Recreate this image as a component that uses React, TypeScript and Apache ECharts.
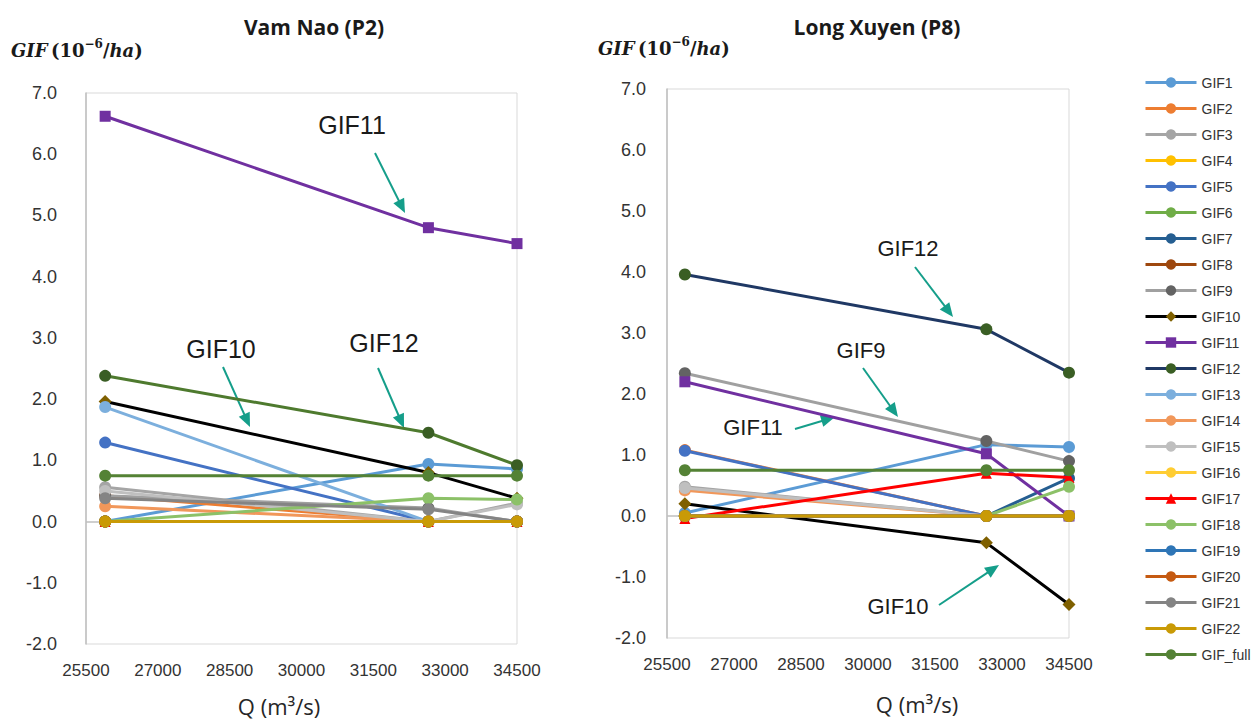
import React, { useEffect, useRef } from "react";
import * as echarts from "echarts";

// Discharge Q (m3/s) at which GIF was evaluated
const qValues = [25900, 32650, 34500];

const seriesNames = [
  "GIF1", "GIF2", "GIF3", "GIF4", "GIF5", "GIF6", "GIF7", "GIF8", "GIF9", "GIF10", "GIF11",
  "GIF12", "GIF13", "GIF14", "GIF15", "GIF16", "GIF17", "GIF18", "GIF19", "GIF20", "GIF21",
  "GIF22", "GIF_full",
];

// Vam Nao (P2): one row per series, values at qValues
const vamNaoValues: number[][] = [
  [0, 0.94, 0.86], // GIF1
  [0.42, 0, 0], // GIF2
  [0.56, 0, 0.3], // GIF3
  [0, 0, 0], // GIF4
  [1.29, 0, 0], // GIF5
  [0, 0, 0], // GIF6
  [0, 0, 0], // GIF7
  [0, 0, 0], // GIF8
  [0.42, 0.22, 0], // GIF9
  [1.96, 0.8, 0.38], // GIF10
  [6.62, 4.8, 4.54], // GIF11
  [2.38, 1.45, 0.92], // GIF12
  [1.87, 0, 0], // GIF13
  [0.25, 0, 0], // GIF14
  [0.5, 0, 0.28], // GIF15
  [0, 0, 0], // GIF16
  [0, 0, 0], // GIF17
  [0, 0.38, 0.36], // GIF18
  [0, 0, 0], // GIF19
  [0, 0, 0], // GIF20
  [0.38, 0.2, 0], // GIF21
  [0, 0, 0], // GIF22
  [0.75, 0.75, 0.75], // GIF_full
];

// Long Xuyen (P8)
const longXuyenValues: number[][] = [
  [0.05, 1.17, 1.13], // GIF1
  [1.08, 0, 0], // GIF2
  [0.48, 0, 0], // GIF3
  [0, 0, 0], // GIF4
  [1.07, 0, 0], // GIF5
  [0, 0, 0], // GIF6
  [0, 0, 0.62], // GIF7
  [0, 0, 0], // GIF8
  [2.34, 1.23, 0.9], // GIF9
  [0.2, -0.44, -1.45], // GIF10
  [2.2, 1.02, 0], // GIF11
  [3.96, 3.06, 2.35], // GIF12
  [0, 0, 0], // GIF13
  [0.42, 0, 0], // GIF14
  [0.46, 0, 0], // GIF15
  [0, 0, 0], // GIF16
  [-0.04, 0.7, 0.63], // GIF17
  [0, 0, 0.48], // GIF18
  [0, 0, 0], // GIF19
  [0, 0, 0], // GIF20
  [0, 0, 0], // GIF21
  [0, 0, 0], // GIF22
  [0.75, 0.75, 0.75], // GIF_full
];

const lineColors = [
  "#5b9bd5", "#ed7d31", "#a5a5a5", "#ffc000", "#4472c4", "#70ad47", "#255e91", "#9e480e",
  "#a0a0a0", "#000000", "#7030a0", "#1f3864", "#7cafdd", "#f1975a", "#bfbfbf", "#ffcd33",
  "#ff0000", "#8cc168", "#2e75b6", "#c55a11", "#848484", "#c99a06", "#548235",
];
const markerColors = [
  "#5b9bd5", "#ed7d31", "#a5a5a5", "#ffc000", "#4472c4", "#70ad47", "#255e91", "#9e480e",
  "#636363", "#7f6000", "#7030a0", "#3a5e24", "#7cafdd", "#f1975a", "#bfbfbf", "#ffcd33",
  "#ff0000", "#8cc168", "#2e75b6", "#c55a11", "#848484", "#c99a06", "#548235",
];
const symbols = seriesNames.map((n) =>
  n === "GIF10" ? "diamond" : n === "GIF11" ? "rect" : n === "GIF17" ? "triangle" : "circle"
);
const symbolSizes = seriesNames.map((n) =>
  n === "GIF10" ? 13 : n === "GIF11" ? 11 : n === "GIF17" ? 11 : 12
);

// panel-specific override: Vam Nao GIF12 line is drawn green
const vamNaoLineOverride: Record<string, string> = { GIF12: "#4e7a2e" };

const yTicks = { min: -2, max: 7, interval: 1 };
const xTicks = { min: 25500, max: 34500, interval: 1500 };

const TEAL = "#159e8a";

function arrow(x1: number, y1: number, x2: number, y2: number) {
  const dx = x2 - x1;
  const dy = y2 - y1;
  const len = Math.sqrt(dx * dx + dy * dy);
  const ux = dx / len;
  const uy = dy / len;
  const hl = 14;
  const hw = 6;
  const bx = x2 - ux * hl;
  const by = y2 - uy * hl;
  return [
    {
      type: "line",
      shape: { x1, y1, x2: bx + ux * 2, y2: by + uy * 2 },
      style: { stroke: TEAL, lineWidth: 2 },
      silent: true,
    },
    {
      type: "polygon",
      shape: {
        points: [
          [x2, y2],
          [bx - uy * hw, by + ux * hw],
          [bx + uy * hw, by - ux * hw],
        ],
      },
      style: { fill: TEAL },
      silent: true,
    },
  ];
}

function label(text: string, cx: number, cy: number, size: number) {
  return {
    type: "text",
    x: cx,
    y: cy,
    silent: true,
    style: {
      text,
      fill: "#1a1a1a",
      font: `${size}px "Liberation Sans", Arial, sans-serif`,
      align: "center",
      verticalAlign: "middle",
    },
  };
}

function yName(x: number, y: number) {
  return {
    type: "text",
    x,
    y,
    silent: true,
    style: {
      text: "{a|GIF} {b|(10}{c|−6}{b|/}{a|ha}{b|)}",
      verticalAlign: "middle",
      align: "left",
      rich: {
        a: { fontFamily: "DejaVu Serif", fontStyle: "italic", fontWeight: "bold", fontSize: 18, fill: "#1a1a1a", lineHeight: 26 },
        b: { fontFamily: "DejaVu Serif", fontWeight: "bold", fontSize: 18, fill: "#1a1a1a", lineHeight: 26 },
        c: { fontFamily: "DejaVu Serif", fontWeight: "bold", fontSize: 12, fill: "#1a1a1a", lineHeight: 26, padding: [0, 0, 12, 0] },
      },
    },
  };
}

export default function App() {
  const ref = useRef<HTMLDivElement>(null);

  useEffect(() => {
    if (!ref.current) return;
    const chart = echarts.init(ref.current, null, { renderer: "svg" });

    const grids = [
      { left: 86, right: 1252 - 517, top: 93, bottom: 720 - 644, show: true, borderColor: "#d9d9d9", borderWidth: 1 },
      { left: 667, right: 1252 - 1069, top: 89, bottom: 720 - 638, show: true, borderColor: "#d9d9d9", borderWidth: 1 },
    ];

    const xAxes = [0, 1].map((i) => ({
      type: "value",
      gridIndex: i,
      min: xTicks.min,
      max: xTicks.max,
      interval: xTicks.interval,
      axisLine: { show: false },
      axisTick: { show: false },
      splitLine: { show: false },
      axisLabel: {
        fontSize: 17,
        color: "#333333",
        margin: 18,
        fontFamily: "Liberation Sans",
        formatter: (v: number) => String(v),
      },
    }));

    const yAxes = [0, 1].map((i) => ({
      type: "value",
      gridIndex: i,
      min: yTicks.min,
      max: yTicks.max,
      interval: yTicks.interval,
      axisLine: { show: true, lineStyle: { color: "#bfbfbf", width: 1.5 } },
      axisTick: { show: false },
      splitLine: { show: false },
      axisLabel: {
        fontSize: 18,
        color: "#333333",
        margin: i === 0 ? 29 : 21,
        fontFamily: "Liberation Sans",
        formatter: (v: number) => v.toFixed(1),
      },
    }));

    const series: any[] = [];
    const panels = [
      { idx: 1, values: longXuyenValues, override: {} as Record<string, string> },
      { idx: 0, values: vamNaoValues, override: vamNaoLineOverride },
    ];
    panels.forEach((p) => {
      seriesNames.forEach((name, i) => {
        const s: any = {
          type: "line",
          name,
          xAxisIndex: p.idx,
          yAxisIndex: p.idx,
          data: qValues.map((q, j) => [q, p.values[i][j]]),
          symbol: symbols[i],
          symbolSize: symbolSizes[i],
          showAllSymbol: true,
          lineStyle: { color: p.override[name] || lineColors[i], width: 3 },
          itemStyle: { color: markerColors[i], borderWidth: 0 },
          emphasis: { disabled: true },
          z: 2 + i * 0.01,
        };
        if (i === 0) {
          s.markLine = {
            silent: true,
            symbol: "none",
            label: { show: false },
            lineStyle: { color: "#bfbfbf", type: "solid", width: 1.5 },
            data: [{ yAxis: 0 }],
            z: 1,
          };
        }
        series.push(s);
      });
    });

    const graphics: any[] = [
      {
        type: "text",
        x: 314,
        y: 27,
        style: { text: "Vam Nao (P2)", font: 'bold 21px "Open Sans", sans-serif', fill: "#1a1a1a", align: "center", verticalAlign: "middle" },
      },
      {
        type: "text",
        x: 877,
        y: 27,
        style: { text: "Long Xuyen (P8)", font: 'bold 21px "Open Sans", sans-serif', fill: "#1a1a1a", align: "center", verticalAlign: "middle" },
      },
      yName(11, 50),
      yName(598, 48),
      {
        type: "text",
        x: 279,
        y: 706,
        style: { text: "Q (m³/s)", font: '22px "Open Sans", sans-serif', fill: "#262626", align: "center", verticalAlign: "middle" },
      },
      {
        type: "text",
        x: 917,
        y: 704,
        style: { text: "Q (m³/s)", font: '22px "Open Sans", sans-serif', fill: "#262626", align: "center", verticalAlign: "middle" },
      },
      // Vam Nao annotations
      label("GIF11", 352, 125, 25),
      ...arrow(375, 153, 405, 213),
      label("GIF10", 221, 349, 25),
      ...arrow(223, 367, 250, 427),
      label("GIF12", 384, 343, 25),
      ...arrow(378, 368, 404, 428),
      // Long Xuyen annotations
      label("GIF12", 908, 248, 22),
      ...arrow(915, 267, 953, 317),
      label("GIF9", 861, 350, 22),
      ...arrow(863, 368, 898, 417),
      label("GIF11", 753, 427, 22),
      ...arrow(795, 429, 835, 417),
      label("GIF10", 898, 606, 22),
      ...arrow(939, 605, 999, 565),
    ];

    chart.setOption({
      animation: false,
      backgroundColor: "#ffffff",
      grid: grids,
      xAxis: xAxes,
      yAxis: yAxes,
      legend: {
        orient: "vertical",
        left: 1139,
        top: 70,
        itemWidth: 51,
        itemHeight: 13,
        itemGap: 11,
        data: seriesNames,
        selectedMode: false,
        itemStyle: { borderWidth: 0 },
        lineStyle: { width: 3 },
        textStyle: { fontSize: 14, color: "#333333", fontFamily: "Liberation Sans", lineHeight: 15 },
      },
      series,
      graphic: graphics,
    });

    return () => chart.dispose();
  }, []);

  return (
    <div
      ref={ref}
      style={{ position: "fixed", left: 0, top: 0, width: 1252, height: 720, background: "#fff" }}
    />
  );
}
